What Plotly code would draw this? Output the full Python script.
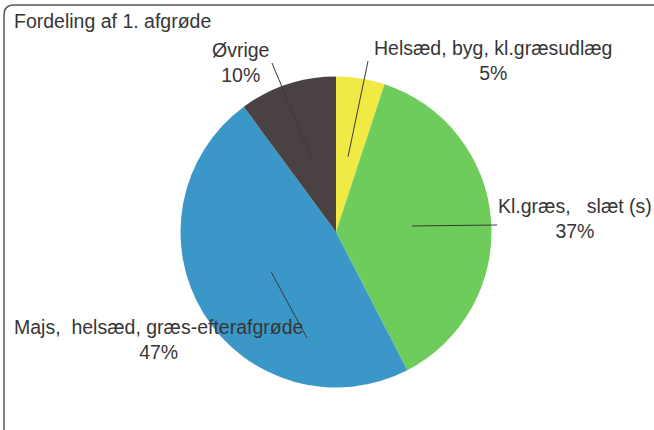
import math
import plotly.graph_objects as go

# ---- data ----
labels = ["Helsæd, byg, kl.græsudlæg", "Kl.græs,\u00a0\u00a0 slæt (s)",
          "Majs,\u00a0 helsæd, græs-efterafgrøde", "Øvrige"]
values = [5, 37, 47, 10]
pct_text = ["5%", "37%", "47%", "10%"]
colors = ["#F0EA45", "#6DCC5B", "#3B97C7", "#4A4242"]

# ---- layout (pixels) ----
W, H = 654, 430
CX, CY, R = 336, 232, 155.5
# label block centres and leader outer ends (pixels)
label_pos = [(493, 60), (575, 218), (158, 339), (240, 63)]
leader_out = [(368, 61), (497, 225), (307, 338), (272, 63)]
FONT = "Liberation Sans, Arial"
TXT = "#363636"

def px(x):
    return x / W

def py(y):
    return 1 - y / H

fig = go.Figure(go.Pie(
    labels=labels, values=values, sort=False, direction="clockwise", rotation=0,
    marker=dict(colors=colors, line=dict(width=0)),
    textinfo="none", showlegend=False, hoverinfo="label+percent",
    domain=dict(x=[px(CX - R), px(CX + R)], y=[py(CY + R), py(CY - R)]),
))

shapes = []
annotations = []
total = sum(values)
cum = 0
for i, v in enumerate(values):
    mid = (cum + v / 2) / total * 2 * math.pi
    cum += v
    ix = CX + 0.49 * R * math.sin(mid)
    iy = CY - 0.49 * R * math.cos(mid)
    ox, oy = leader_out[i]
    shapes.append(dict(type="line", xref="paper", yref="paper",
                       x0=px(ix), y0=py(iy), x1=px(ox), y1=py(oy),
                       line=dict(color="#3a3a3a", width=1)))
    lx, ly = label_pos[i]
    annotations.append(dict(xref="paper", yref="paper", x=px(lx), y=py(ly),
                            xanchor="center", yanchor="middle", showarrow=False,
                            align="center", text=labels[i] + "<br>" + pct_text[i],
                            font=dict(family=FONT, size=19.5, color=TXT)))

# title
annotations.append(dict(xref="paper", yref="paper", x=px(12), y=py(21),
                        xanchor="left", yanchor="middle", showarrow=False,
                        text="Fordeling af 1. afgrøde",
                        font=dict(family=FONT, size=19.5, color=TXT)))

# border with rounded top-left corner
bx0, by0, rad = 4, 5, 10
path = (f"M {px(bx0)},{py(H + 10)} L {px(bx0)},{py(by0 + rad)} "
        f"Q {px(bx0)},{py(by0)} {px(bx0 + rad)},{py(by0)} L {px(W + 10)},{py(by0)}")
shapes.append(dict(type="path", xref="paper", yref="paper", path=path,
                   line=dict(color="#555555", width=1.5)))

fig.update_layout(width=W, height=H, margin=dict(l=0, r=0, t=0, b=0),
                  paper_bgcolor="white", plot_bgcolor="white",
                  shapes=shapes, annotations=annotations)

fig.write_html("out.html", config={"displayModeBar": False},
               post_script="document.body.style.margin='0px';")
